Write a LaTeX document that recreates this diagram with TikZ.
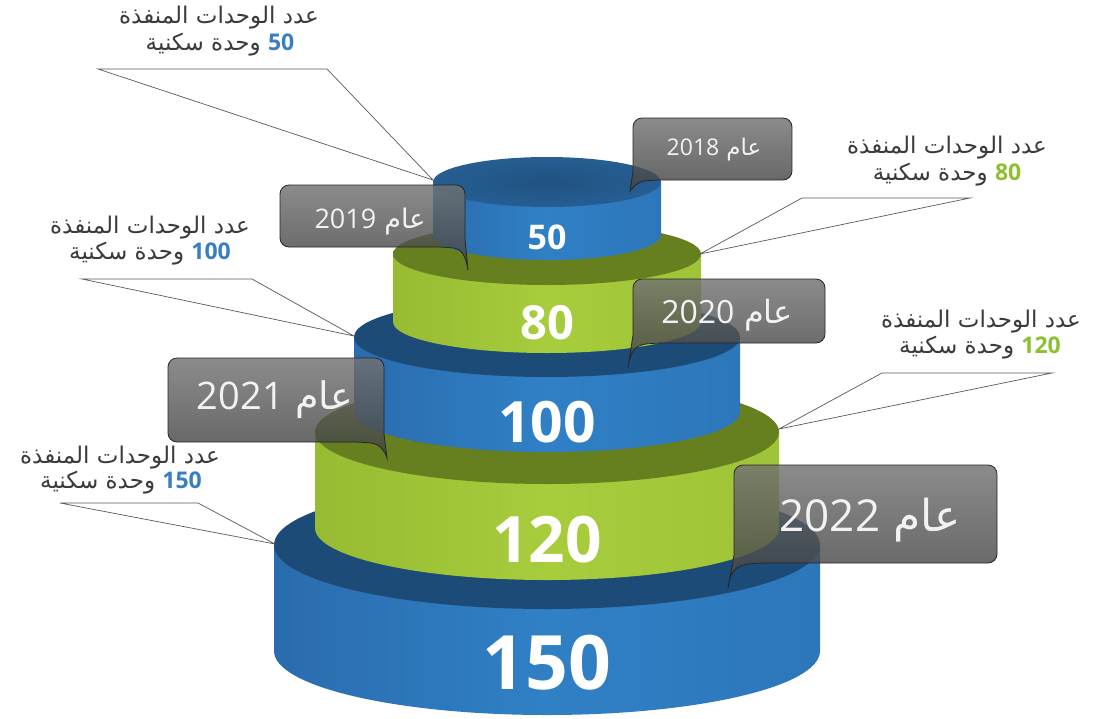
\documentclass[tikz,border=0pt]{standalone}
\usepackage{fontspec}
\TeXXeTstate=1
\newfontfamily\arabicfont[Script=Arabic]{DejaVu Sans}
\newfontfamily\numfont{Open Sans}
\definecolor{sideB}{HTML}{3080C6}
\definecolor{sideBdk}{HTML}{2A6CAE}
\definecolor{topBin}{HTML}{1D4B77}
\definecolor{topBout}{HTML}{2B69A3}
\definecolor{sideG}{HTML}{A7CC3C}
\definecolor{sideGdk}{HTML}{97BB32}
\definecolor{topGin}{HTML}{67801F}
\definecolor{topGout}{HTML}{95B837}
\definecolor{numblue}{HTML}{3A7EC2}
\definecolor{numgreen}{HTML}{8DC030}
\definecolor{txtgray}{HTML}{3A3A3A}
\definecolor{bubtop}{HTML}{727272}
\definecolor{bubbot}{HTML}{404040}
\pgfdeclareradialshading{topB}{\pgfpoint{0bp}{0bp}}{color(0bp)=(topBin); color(33bp)=(topBin); color(50bp)=(topBout)}
\pgfdeclareradialshading{topBone}{\pgfpoint{0bp}{0bp}}{color(0bp)=(topBin!75!topBout); color(50bp)=(topBout)}
\pgfdeclareradialshading{topG}{\pgfpoint{0bp}{0bp}}{color(0bp)=(topGin); color(33bp)=(topGin); color(50bp)=(topGout)}
% tier: cx, yt, a, b, h, kind (B/G), top shading
\newcommand{\drawtier}[7]{%
  \shade[left color=side#6dk, right color=side#6dk!50!side#6, middle color=side#6]
    (#1-#3,#2) -- (#1-#3,#2+#5) arc[start angle=180,end angle=360,x radius=#3pt,y radius=#4pt] -- (#1+#3,#2) -- cycle;
  \shade[shading=#7] (#1,#2) ellipse[x radius=#3pt, y radius=#4pt];
}
% bubble with tail on the left: x1,y1,x2,y2,tipx,tipy,joinx
\newcommand{\bubbleleft}[7]{%
  \path[bubble] (#1,{(#2+#4)/2}) [rounded corners=9pt] -- (#1,#2) -- (#3,#2) -- (#3,#4) -- (#7,#4)
    [sharp corners] .. controls (#5+7,#4+2) and (#5+2,#4+9) .. (#5,#6) -- (#1,#4-8) -- cycle;
}
\newcommand{\bubbleright}[7]{%
  \path[bubble] (#3,{(#2+#4)/2}) [rounded corners=9pt] -- (#3,#2) -- (#1,#2) -- (#1,#4) -- (#7,#4)
    [sharp corners] .. controls (#5-7,#4+2) and (#5-2,#4+9) .. (#5,#6) -- (#3,#4-8) -- cycle;
}
\begin{document}
\begin{tikzpicture}[x=1pt,y=-1pt,
  bubble/.style={top color=bubtop, bottom color=bubbot, fill opacity=0.82, draw=black!85, line width=0.8pt},
  wedge/.style={draw=black!65, line width=0.7pt},
  captxt/.style={text=txtgray, inner sep=0pt, font=\arabicfont\fontsize{23}{23}\selectfont},
  num/.style={text=white, inner sep=0pt},
  yeartxt/.style={text=white!95!black, inner sep=0pt}]
\useasboundingbox (0,0) rectangle (1106,718);
\fill[white] (0,0) rectangle (1106,718);
% tiers, bottom first
\drawtier{547}{545}{273}{64}{106}{B}{topB}
\drawtier{547}{432}{232}{52}{96}{G}{topG}
\drawtier{547}{337}{193}{40}{75}{B}{topB}
\drawtier{547}{254}{154}{31}{68}{G}{topG}
\drawtier{547}{182}{114}{25}{53}{B}{topBone}
% tier numbers
\node[num, font=\numfont\bfseries\fontsize{34}{34}\selectfont] (n50) at (547,237) {50};
\node[num, font=\numfont\bfseries\fontsize{47}{47}\selectfont] (n80) at (547,323) {80};
\node[num, font=\numfont\bfseries\fontsize{57}{57}\selectfont] (n100) at (547,422) {100};
\node[num, font=\numfont\bfseries\fontsize{64}{64}\selectfont] (n120) at (547,540) {120};
\node[num, font=\numfont\bfseries\fontsize{75}{75}\selectfont] (n150) at (547,663) {150};
% callout wedges
\coordinate (p50) at (433,180);
\coordinate (w50a) at (98,69);  \coordinate (w50b) at (327,69);
\coordinate (p80) at (700,254);
\coordinate (w80a) at (802,198); \coordinate (w80b) at (970,198);
\coordinate (p100) at (354,336);
\coordinate (w100a) at (82,279); \coordinate (w100b) at (252,279);
\coordinate (p120) at (779,429);
\coordinate (w120a) at (882,373); \coordinate (w120b) at (1052,373);
\coordinate (p150) at (275,544);
\coordinate (w150a) at (60,503); \coordinate (w150b) at (198,503);
\draw[wedge] (w50a) -- (w50b) -- (p50) -- cycle;
\draw[wedge] (w80a) -- (w80b) -- (p80) -- cycle;
\draw[wedge] (w100a) -- (w100b) -- (p100) -- cycle;
\draw[wedge] (w120a) -- (w120b) -- (p120) -- cycle;
\draw[wedge] (w150a) -- (w150b) -- (p150) -- cycle;
% callout texts
\node[captxt] (c50a) at (219,18) {\beginR عدد الوحدات المنفذة\endR};
\node[captxt] (c50b) at (220,45) {\beginR وحدة سكنية\endR\ {\numfont\bfseries\color{numblue}50}};
\node[captxt] (c80a) at (947,148) {\beginR عدد الوحدات المنفذة\endR};
\node[captxt] (c80b) at (947,175) {\beginR وحدة سكنية\endR\ {\numfont\bfseries\color{numgreen}80}};
\node[captxt] (c100a) at (150,228) {\beginR عدد الوحدات المنفذة\endR};
\node[captxt] (c100b) at (150,254) {\beginR وحدة سكنية\endR\ {\numfont\bfseries\color{numblue}100}};
\node[captxt] (c120a) at (981,322) {\beginR عدد الوحدات المنفذة\endR};
\node[captxt] (c120b) at (980,348) {\beginR وحدة سكنية\endR\ {\numfont\bfseries\color{numgreen}120}};
\node[captxt] (c150a) at (120,458) {\beginR عدد الوحدات المنفذة\endR};
\node[captxt] (c150b) at (121,483) {\beginR وحدة سكنية\endR\ {\numfont\bfseries\color{numblue}150}};
% year bubbles
\bubbleleft{633}{118}{792}{180}{630}{191}{652}
\node[yeartxt, font=\fontsize{23}{23}\selectfont] (y2018) at (714,150) {{\numfont 2018}\ {\arabicfont\beginR عام\endR}};
\bubbleright{280}{185}{465}{247}{468}{270}{446}
\node[yeartxt, font=\fontsize{27}{27}\selectfont] (y2019) at (370,221) {{\numfont 2019}\ {\arabicfont\beginR عام\endR}};
\bubbleleft{633}{279}{825}{343}{628}{368}{656}
\node[yeartxt, font=\fontsize{32}{32}\selectfont] (y2020) at (727,315) {{\numfont 2020}\ {\arabicfont\beginR عام\endR}};
\bubbleright{168}{358}{384}{442}{387}{458}{362}
\node[yeartxt, font=\fontsize{38}{38}\selectfont] (y2021) at (275,400) {{\numfont 2021}\ {\arabicfont\beginR عام\endR}};
\bubbleleft{734}{465}{997}{563}{728}{588}{760}
\node[yeartxt, font=\fontsize{44}{44}\selectfont] (y2022) at (870,520) {{\numfont 2022}\ {\arabicfont\beginR عام\endR}};
\end{tikzpicture}
\end{document}
